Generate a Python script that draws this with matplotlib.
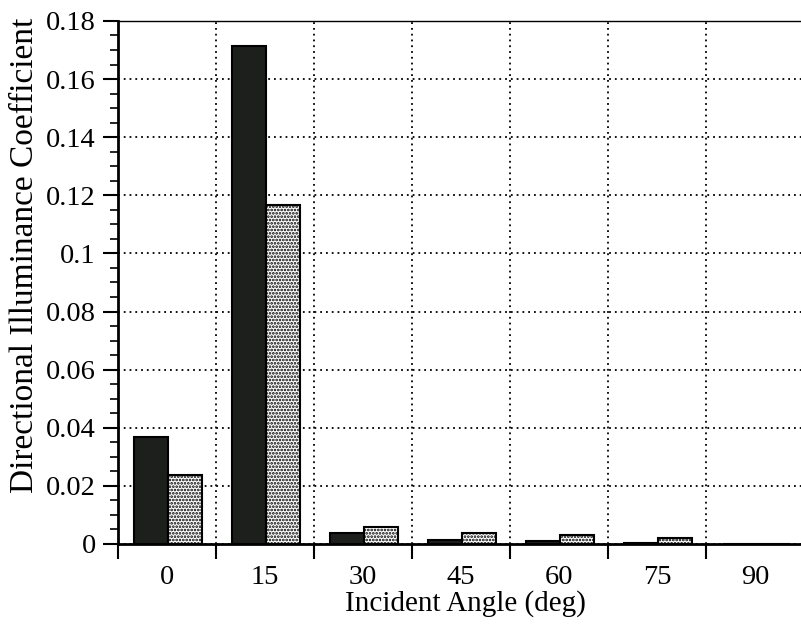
import matplotlib
matplotlib.use("Agg")
import matplotlib.pyplot as plt
import numpy as np

angles = ["0", "15", "30", "45", "60", "75", "90"]
series_dark = [0.0368, 0.1714, 0.0038, 0.0013, 0.0010, 0.0003, 0.0001]
series_stipple = [0.0237, 0.1167, 0.0059, 0.0037, 0.0031, 0.0022, 0.0001]

plt.rcParams['font.family'] = ['Liberation Serif', 'DejaVu Serif']
plt.rcParams['hatch.linewidth'] = 1.3

fig = plt.figure(figsize=(8.01, 6.26), dpi=100)
ax = fig.add_axes([0.1473, 0.131, 0.857, 0.8355])

x = np.arange(len(angles))
w = 0.345
ax.bar(x - w / 2 + 0.01, series_dark, width=w, color='#1c1f1c', edgecolor='black', linewidth=1.5, zorder=3)
ax.bar(x + w / 2 + 0.01, series_stipple, width=w, color='white', edgecolor='black', hatch='.....', linewidth=1.5, zorder=3)

ax.set_xlim(-0.5, 6.5)
ax.set_ylim(0, 0.18)

ax.set_xticks(np.arange(-0.5, 7, 1.0))
ax.set_xticklabels([])
ax.set_xticks(x, minor=True)
ax.set_xticklabels(angles, minor=True)
ax.tick_params(axis='x', which='major', direction='out', length=11, width=1.5)
ax.tick_params(axis='x', which='minor', length=0, labelsize=20.5, pad=15)

ax.set_yticks(np.arange(0, 0.181, 0.02))
ax.set_yticklabels(["0", "0.02", "0.04", "0.06", "0.08", "0.1", "0.12", "0.14", "0.16", "0.18"])
ax.set_yticks(np.arange(0, 0.181, 0.005), minor=True)
ax.tick_params(axis='y', which='major', direction='out', length=11, width=1.5, labelsize=20.5, pad=5)
ax.tick_params(axis='y', which='minor', direction='out', length=6, width=1.2)

ax.grid(True, which='major', color='black', linestyle=(0, (1, 2.2)), linewidth=1.3, zorder=1)

for s in ['left', 'bottom']:
    ax.spines[s].set_linewidth(2)
ax.spines['top'].set_linewidth(1)
ax.spines['right'].set_visible(False)

ax.set_xlabel("Incident Angle (deg)", fontsize=21)
ax.set_ylabel("Directional Illuminance Coefficient", fontsize=24)
ax.xaxis.set_label_coords(0.506, -0.088)
ax.yaxis.set_label_coords(-0.114, 0.551)

fig.savefig("out.png", dpi=100)
